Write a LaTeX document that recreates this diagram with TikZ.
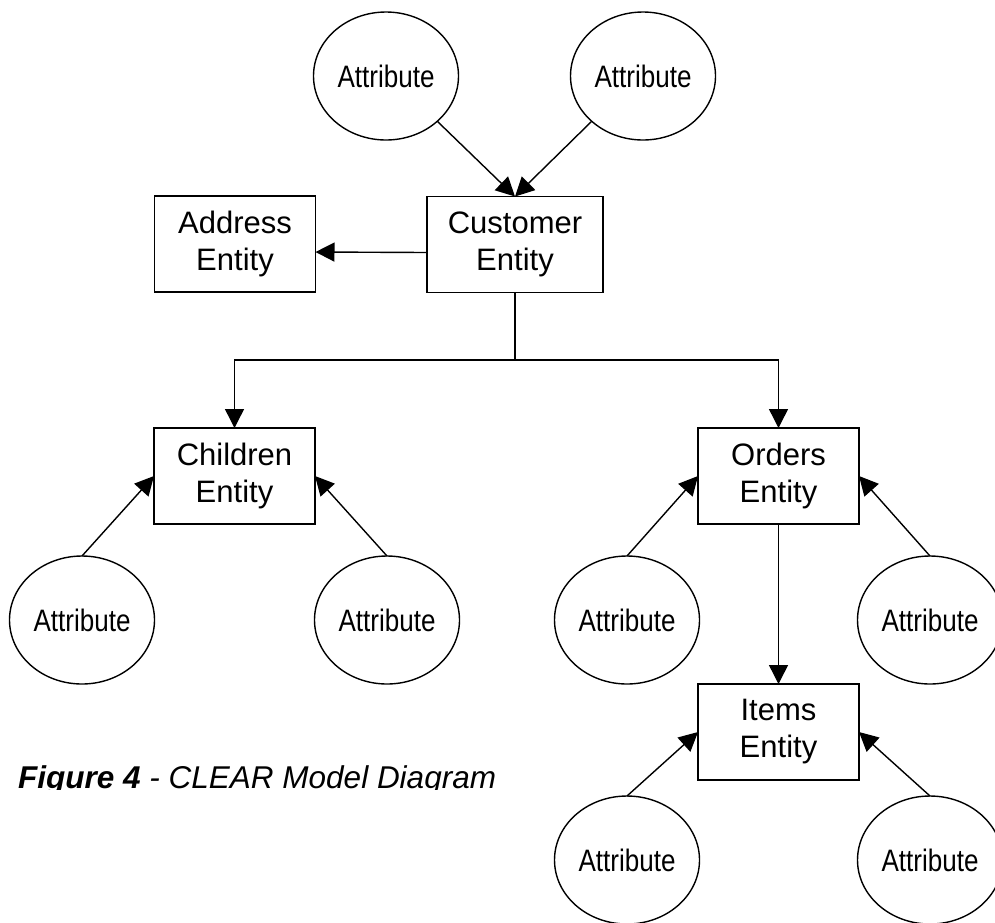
\documentclass[tikz,border=0pt]{standalone}
\usepackage{fontspec}
\setmainfont{Liberation Sans}
\newfontfamily\attrfont[FakeStretch=0.84]{Liberation Sans}
\usetikzlibrary{arrows.meta, shapes.geometric, positioning}
\tikzset{
  entitybox/.style={
    rectangle, draw=black, line width=1.4pt,
    minimum width=161pt, minimum height=96pt,
    inner sep=0pt, outer sep=0pt,
    align=center, font=\fontsize{31}{37}\selectfont
  },
  attrnode/.style={
    ellipse, draw=black, line width=1.4pt,
    minimum width=145pt, minimum height=128pt,
    inner sep=0pt, outer sep=0pt,
    font=\attrfont\fontsize{31}{37}\selectfont
  },
  relarrow/.style={-{Triangle[length=19pt,width=19pt]}, line width=1.4pt},
}

\begin{document}
\begin{tikzpicture}[x=1pt,y=-1pt]
    \useasboundingbox (0,0) rectangle (995,922);
    % entities
    \node[entitybox, minimum width=176pt](cust) at(515,244.5){Customer\\Entity};
    \node[entitybox](addr)  at(235,244)  {Address\\Entity};
    \node[entitybox](child) at(234.5,476){Children\\Entity};
    \node[entitybox](ord)   at(778.5,476){Orders\\Entity};
    \node[entitybox](item)  at(778.5,732){Items\\Entity};
    % attributes
    \node[attrnode](custA) at(386,76)  {Attribute};
    \node[attrnode](custB) at(643,76)  {Attribute};
    \node[attrnode](childA)at(82,620)  {Attribute};
    \node[attrnode](childB)at(387,620) {Attribute};
    \node[attrnode](ordA)  at(627,620) {Attribute};
    \node[attrnode](ordB)  at(930,620) {Attribute};
    \node[attrnode](itemA) at(627,860) {Attribute};
    \node[attrnode](itemB) at(930,860) {Attribute};
    \coordinate (split) at (515,360);
    % relations
    \draw[relarrow]([yshift=-8pt]cust.west)--([yshift=-8pt]addr.east);
    \draw[line width=1.4pt](cust.south)--(split);
    \draw[relarrow](split)-|(child.north);
    \draw[relarrow](split)-|(ord.north);
    \draw[relarrow](ord.south)--(item.north);
    \draw[relarrow](custA.south east)--(cust.north);
    \draw[relarrow](custB.south west)--(cust.north);
    \draw[relarrow](childA.north)--(child.west);
    \draw[relarrow](childB.north)--(child.east);
    \draw[relarrow](ordA.north)--(ord.west);
    \draw[relarrow](ordB.north)--(ord.east);
    \draw[relarrow](itemA.north)--(item.west);
    \draw[relarrow](itemB.north)--(item.east);
    % caption, cut at its baseline as in the source
    \begin{scope}
      \clip (0,700) rectangle (995,789);
      \node[anchor=base west, inner sep=0pt,
            font=\itshape\fontsize{31.5}{38}\selectfont](caption) at(18,788)
           {\textbf{Figure 4} - CLEAR Model Diagram};
    \end{scope}
  \end{tikzpicture}
\end{document}
